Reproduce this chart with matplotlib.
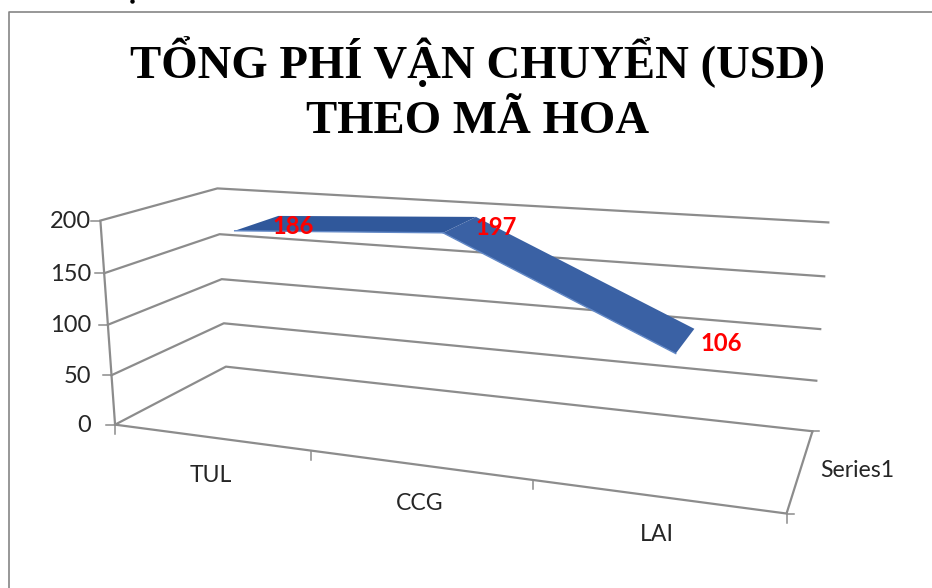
import numpy as np
import matplotlib
matplotlib.use("Agg")
import matplotlib.pyplot as plt

categories = ["TUL", "CCG", "LAI"]
values = [186, 197, 106]
y_ticks = [0, 50, 100, 150, 200]
series_name = "Series1"
title_lines = ["TỔNG PHÍ VẬN CHUYỂN (USD)", "THEO MÃ HOA"]

# camera calibration: (category, value, depth) -> pixel
calib = [((0,0,0),(115,424)),((0,200,0),(100,221)),((0,100,0),(109,324)),
         ((0,0,1),(226,367)),((0,200,1),(217,188)),((0,100,1),(222,279)),
         ((3,0,1),(812,431)),((3,200,1),(828,223)),((3,100,1),(821,329)),
         ((3,0,0),(787,512)),((1,0,0),(310,452)),((2,0,0),(533,481))]
A = []
for (X, Y, Z), (u, v) in calib:
    P = [X, Y, Z, 1]
    A.append(P + [0]*4 + [-u*c for c in P])
    A.append([0]*4 + P + [-v*c for c in P])
M = np.linalg.svd(np.array(A, float))[2][-1].reshape(3, 4)

def proj(x, y, z):
    p = M @ np.array([x, y, z, 1.0])
    return p[0]/p[2], p[1]/p[2]

fig = plt.figure(figsize=(9.32, 5.88), dpi=100)
ax = fig.add_axes([0, 0, 1, 1])
ax.set_xlim(0, 932); ax.set_ylim(588, 0); ax.axis("off")
GR = "#8c8c8c"
TXT = "#262626"
def line(a, b, lw=1.6):
    ax.plot([a[0], b[0]], [a[1], b[1]], color=GR, lw=lw, solid_capstyle="butt")

label_right = proj(0, 200, 0)[0] - 9
for v in y_ticks:
    a, b, c = proj(0, v, 0), proj(0, v, 1), proj(3, v, 1)
    ax.plot([a[0], b[0], c[0]], [a[1], b[1], c[1]], color=GR, lw=1.6)
    ax.plot([a[0]-9, a[0]], [a[1], a[1]], color=GR, lw=1.1)
    ax.text(label_right, a[1]+1, str(v), ha="right", va="center", family="Lato", fontsize=17, color=TXT)
line(proj(0,0,0), proj(0,200,0))
line(proj(0,0,0), proj(3,0,0))
line(proj(3,0,0), proj(3,0,1))
for i in range(4):
    p = proj(i,0,0)
    ax.plot([p[0], p[0]], [p[1], p[1]+9], color=GR, lw=1.1)
for z in (0, 1):
    p = proj(3,0,z)
    ax.plot([p[0], p[0]+7], [p[1], p[1]], color=GR, lw=1.1)
for i, c in enumerate(categories):
    p = proj(i+0.5, 0, 0)
    ax.text(p[0]+1, p[1]+38.5, c, ha="center", va="center", family="Lato", fontsize=16.6, color=TXT)
p = proj(3,0,0.5)
ax.text(p[0]+20, p[1]+2, series_name, ha="left", va="center", family="Lato", fontsize=16.6, color=TXT)

xs = [0.5, 1.5, 2.5]
zf, zb = 0.295, 0.71
seg_colors = ["#30589b", "#3a61a4"]
for i in range(2):
    q = [proj(xs[i], values[i], zf), proj(xs[i+1], values[i+1], zf), proj(xs[i+1], values[i+1], zb), proj(xs[i], values[i], zb)]
    ax.fill(*zip(*q), color=seg_colors[i], lw=0, zorder=3)
    ax.plot(*zip(q[0], q[1]), color="#6288c6", lw=1.0, zorder=3)
for i, v in enumerate(values):
    p = proj(xs[i], v, (zf+zb)/2)
    ax.text(p[0]+36, p[1]+3, str(v), color="red", weight="bold", family="Lato", fontsize=17.2, ha="center", va="center", zorder=4)

ax.plot([8.5, 8.5, 932], [588, 11.5, 11.5], color="#858585", lw=1.2)
ax.plot([132], [1], marker="o", ms=2.2, color="black", ls="none", clip_on=True)
for s, yb in zip(title_lines, (78, 133)):
    ax.text(478, yb, s, ha="center", va="baseline", family="Liberation Serif", weight="bold", fontsize=33.7, color="black")
fig.savefig("out.png", dpi=100)
